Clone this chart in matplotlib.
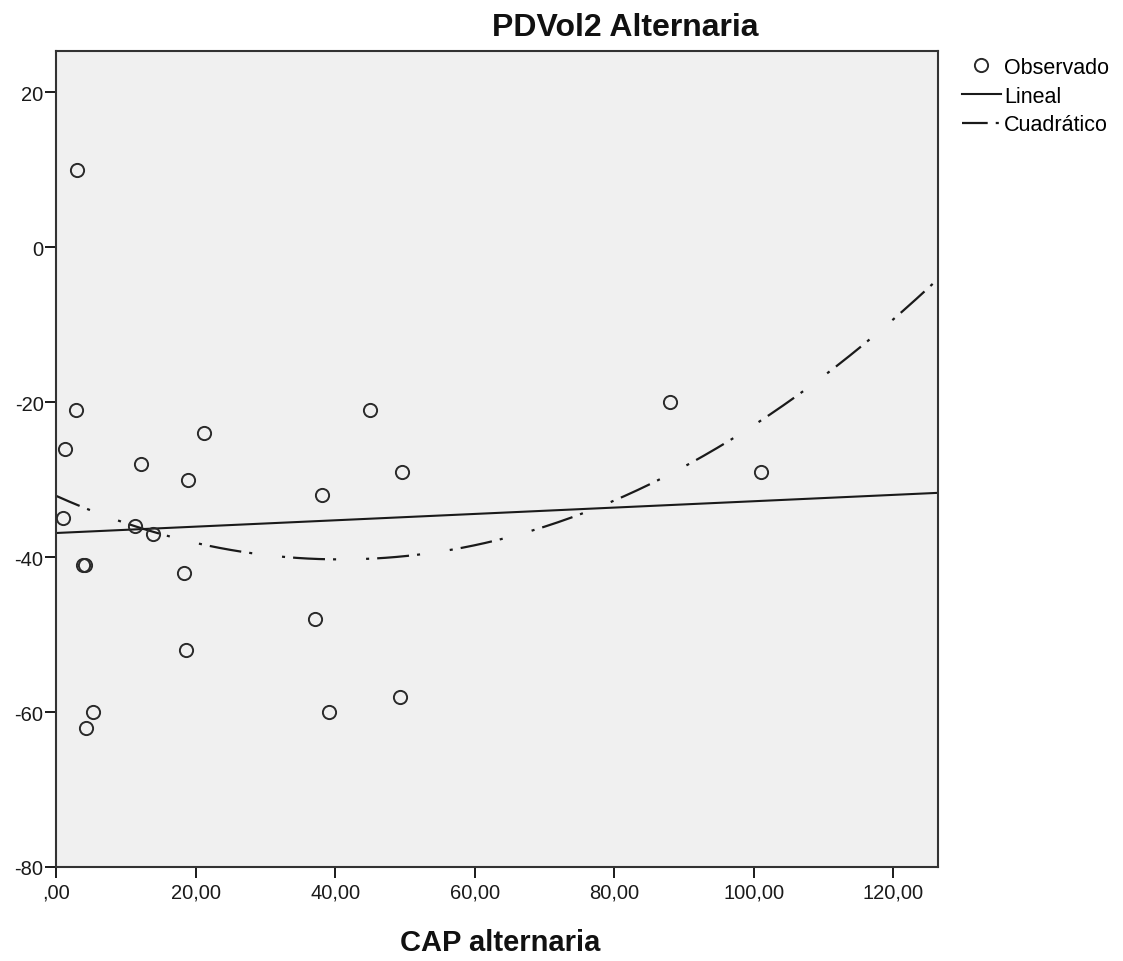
import numpy as np
import matplotlib
matplotlib.use("Agg")
import matplotlib.pyplot as plt
from matplotlib.ticker import FuncFormatter, MultipleLocator

plt.rcParams['font.family'] = ['Liberation Sans', 'DejaVu Sans']
plt.rcParams['lines.scale_dashes'] = False

# observed values (CAP alternaria vs PDVol2)
cap = [3.0, 1.3, 2.9, 1.0, 3.9, 4.1, 5.3, 4.3, 11.3, 13.9, 12.2, 21.2,
       18.9, 18.4, 18.6, 38.1, 37.1, 39.1, 45.0, 49.6, 49.3, 88.0, 101.1]
pdvol = [10, -26, -21, -35, -41, -41, -60, -62, -36, -37, -28, -24,
         -30, -42, -52, -32, -48, -60, -21, -29, -58, -20, -29]

# fitted models: intercept, slope (, quadratic term)
lineal = [-36.9, 0.041]
cuadratico = [-32.1, -0.4025, 0.004936]

xmax = 126.4
ymin, ymax = -80, 25.3

fig = plt.figure(figsize=(11.23, 9.62), dpi=100)
ax = fig.add_axes([56 / 1123, 1 - 868 / 962, (938 - 56) / 1123, (868 - 52) / 962])
ax.set_facecolor('#f0f0f0')

xs = np.linspace(0, xmax, 400)
ax.plot(xs, lineal[0] + lineal[1] * xs, color='#1a1a1a', lw=1.5,
        label='Lineal', zorder=2)
# long dash / dot pattern, starting part way into the dash
ax.plot(xs, cuadratico[0] + cuadratico[1] * xs + cuadratico[2] * xs ** 2,
        color='#1a1a1a', lw=1.6, label='Cuadrático', zorder=2,
        ls=(12.5, [2.2, 5.8, 23, 5.8, 2.2, 21.6]), dash_capstyle='butt')

ax.plot(cap, pdvol, 'o', ms=9.5, mfc='none', mec='#2a2a2a', mew=1.4,
        label='Observado', zorder=3, ls='none')

ax.set_xlim(0, xmax)
ax.set_ylim(ymin, ymax)
ax.xaxis.set_major_locator(MultipleLocator(20))
ax.yaxis.set_major_locator(MultipleLocator(20))


def fmt_x(v, pos):
    s = f"{v:.2f}".replace('.', ',')
    return s[1:] if s.startswith('0') else s


ax.xaxis.set_major_formatter(FuncFormatter(fmt_x))
ax.yaxis.set_major_formatter(FuncFormatter(lambda v, p: f"{v:.0f}"))
ax.tick_params(direction='out', length=8, width=1.4, labelsize=14.5,
               colors='#1a1a1a', pad=1)
ax.tick_params(axis='x', pad=3)
for sp in ax.spines.values():
    sp.set_linewidth(1.5)
    sp.set_color('#333333')

h, l = ax.get_legend_handles_labels()
order = [2, 0, 1]
fig.legend([h[i] for i in order], [l[i] for i in order],
           loc='upper left', bbox_to_anchor=(962 / 1123, 1 - 58 / 962),
           frameon=False, fontsize=15.5, handlelength=1.8, handletextpad=0.15,
           labelspacing=0.35, borderpad=0, borderaxespad=0)

fig.text(625 / 1123, 1 - 28 / 962, 'PDVol2 Alternaria', ha='center',
         va='center', fontsize=23, fontweight='bold', color='#111111')
fig.text(500 / 1123, 1 - 943 / 962, 'CAP alternaria', ha='center',
         va='center', fontsize=21, fontweight='bold', color='#111111')

fig.savefig('out.png', dpi=100)
